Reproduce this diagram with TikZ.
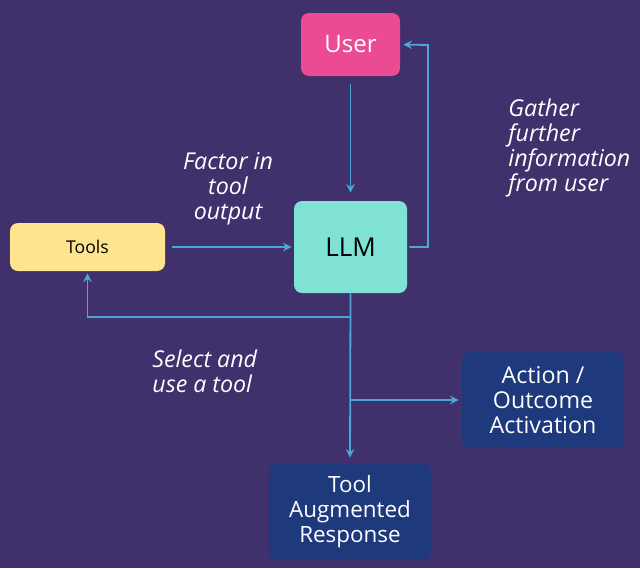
\documentclass[tikz,border=0pt]{standalone}
\usepackage{fontspec}
\setmainfont{Open Sans}
\usetikzlibrary{arrows}

\definecolor{bgpurple}{HTML}{40306C}
\definecolor{userpink}{HTML}{EB4B93}
\definecolor{llmteal}{HTML}{80E2D4}
\definecolor{toolyellow}{HTML}{FFE490}
\definecolor{outblue}{HTML}{1E3A7C}
\definecolor{linkblue}{HTML}{4EA6D4}

\begin{document}
\begin{tikzpicture}[x=0.5pt, y=-0.5pt, >=stealth,
    box/.style = {rounded corners=4pt, align=center, inner sep=0pt},
    note/.style = {text=white, inner sep=0pt, font=\itshape\fontsize{11.6}{12.5}\selectfont},
    link/.style = {draw=linkblue, line width=0.9pt}]
            % Background
            \fill[bgpurple] (0,0) rectangle (640,568);

            % Nodes
            \node[box, fill=userpink, text=white, minimum width=49.5pt, minimum height=31.5pt,
                  font=\fontsize{12}{14}\selectfont] (user) at (350.5,44.5) {User};
            \node[box, fill=llmteal, text=black, minimum width=56.5pt, minimum height=46pt,
                  font=\fontsize{13}{15}\selectfont] (llm) at (350.5,247) {LLM};
            \node[box, fill=toolyellow, text=black, minimum width=77.5pt, minimum height=24pt,
                  font=\fontsize{8.8}{10}\selectfont] (tools) at (87.5,247) {Tools};
            \node[box, fill=outblue, text=white, minimum width=81pt, minimum height=48pt,
                  font=\fontsize{11.6}{12.5}\selectfont] (action) at (543,400) {Action /\\Outcome\\Activation};
            \node[box, fill=outblue, text=white, minimum width=81pt, minimum height=48pt,
                  font=\fontsize{11.2}{12.5}\selectfont] (response) at (350,512) {Tool\\Augmented\\Response};

            % Labels
            \node[note, align=center] (factor) at (228,189) {Factor in\\tool\\output};
            \node[note, align=left, anchor=west] (gather) at (508,148) {Gather\\further\\information\\from user};
            \node[note, align=left, anchor=west] (select) at (152,371) {Select and\\use a tool};

            % Branch points
            \coordinate (up) at (428,45);
            \coordinate (split1) at (350,317);
            \coordinate (split2) at (350,400);

            % Lines
            \draw[link, ->, shorten <=4pt, shorten >=4pt] (user) -- (llm);
            \draw[link, ->, shorten <=1pt, shorten >=1.5pt] (llm.east) -| (up) -- (user.east);
            \draw[link, ->, shorten <=3.5pt, shorten >=1pt] (tools.east) -- (llm.west);
            \draw[link, ->, shorten >=3pt] (llm.south) -- (response.north);
            \draw[link, ->, shorten >=1pt] (split1) -| (tools.south);
            \draw[link, ->, shorten >=1.5pt] (split2) -- (action.west);
        \end{tikzpicture}
\end{document}
